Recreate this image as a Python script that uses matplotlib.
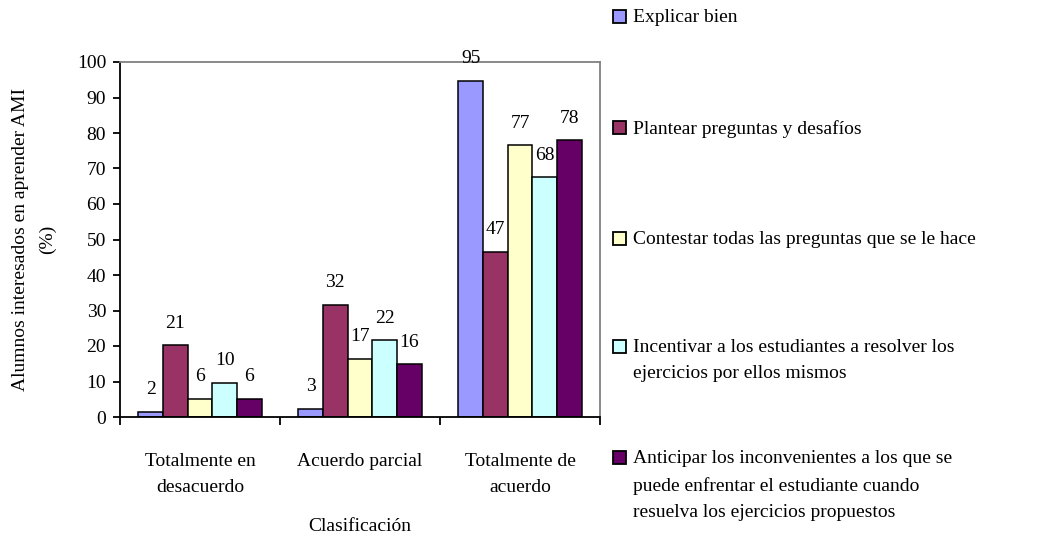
import matplotlib.pyplot as plt
from matplotlib.patches import Rectangle
import numpy as np

plt.rcParams['font.family'] = ['Liberation Serif', 'DejaVu Serif']

# Datos
categorias = ['Totalmente en\ndesacuerdo', 'Acuerdo parcial', 'Totalmente de\nacuerdo']
series = ['Explicar bien',
          'Plantear preguntas y desafíos',
          'Contestar todas las preguntas que se le hace',
          'Incentivar a los estudiantes a resolver los\nejercicios por ellos mismos',
          'Anticipar los inconvenientes a los que se\npuede enfrentar el estudiante cuando\nresuelva los ejercicios propuestos']
# alturas de las barras (como se dibujan)
alturas = [[1.4, 2.2, 94.6],
           [20.2, 31.5, 46.5],
           [5.2, 16.3, 76.5],
           [9.7, 21.6, 67.5],
           [5.2, 14.8, 77.9]]
# etiquetas de datos (como aparecen)
etiquetas = [[2, 3, 95],
             [21, 32, 47],
             [6, 17, 77],
             [10, 22, 68],
             [6, 16, 78]]
colores = ['#9999FF', '#993366', '#FFFFCC', '#CCFFFF', '#660066']

fs = 14
fig = plt.figure(figsize=(10.54, 5.53), dpi=100)
ax = fig.add_axes([120/1054, 136/553, 480/1054, 355/553])

x = np.arange(len(categorias))
w = 0.154
for i in range(len(series)):
    pos = x + (i - 2) * w
    ax.bar(pos, alturas[i], width=w, color=colores[i], edgecolor='black', linewidth=1.1)
    for px, h, lab in zip(pos, alturas[i], etiquetas[i]):
        ax.annotate(str(lab), (px, h), xytext=(0, 16), textcoords='offset points',
                    ha='center', va='center', fontsize=fs)

ax.set_xlim(-0.5, 2.5)
ax.set_ylim(0, 100)
ax.set_yticks(range(0, 101, 10))
ax.tick_params(axis='y', length=5, width=1.3, pad=5, labelsize=fs, direction='out')
ax.set_xticks(x)
ax.set_xticklabels(categorias, fontsize=fs, linespacing=1.65)
ax.tick_params(axis='x', which='major', length=0, pad=26)
ax.set_xticks([-0.5, 0.5, 1.5, 2.5], minor=True)
ax.tick_params(axis='x', which='minor', length=6, width=1.3, direction='out')

for s in ['left', 'bottom']:
    ax.spines[s].set_linewidth(1.3)
    ax.spines[s].set_color('black')
for s in ['top', 'right']:
    ax.spines[s].set_linewidth(1.3)
    ax.spines[s].set_color('#808080')

ax.set_ylabel('Alumnos interesados en aprender AMI\n(%)', fontsize=fs, linespacing=1.75, labelpad=15)
ax.set_xlabel('Clasificación', fontsize=fs, labelpad=16)

# leyenda manual a la derecha
W, H = 1054, 553
ys = [17, 128, 239, 347, 458]
for i, (lab, y) in enumerate(zip(series, ys)):
    fig.patches.append(Rectangle((613/W, 1 - (y + 6)/H), 13/W, 13/H, transform=fig.transFigure,
                                 facecolor=colores[i], edgecolor='black', linewidth=1.3))
    fig.text(633/W, 1 - (y - 8)/H, lab, fontsize=fs, va='top', ha='left', linespacing=1.7)

fig.savefig('out.png', dpi=100)
